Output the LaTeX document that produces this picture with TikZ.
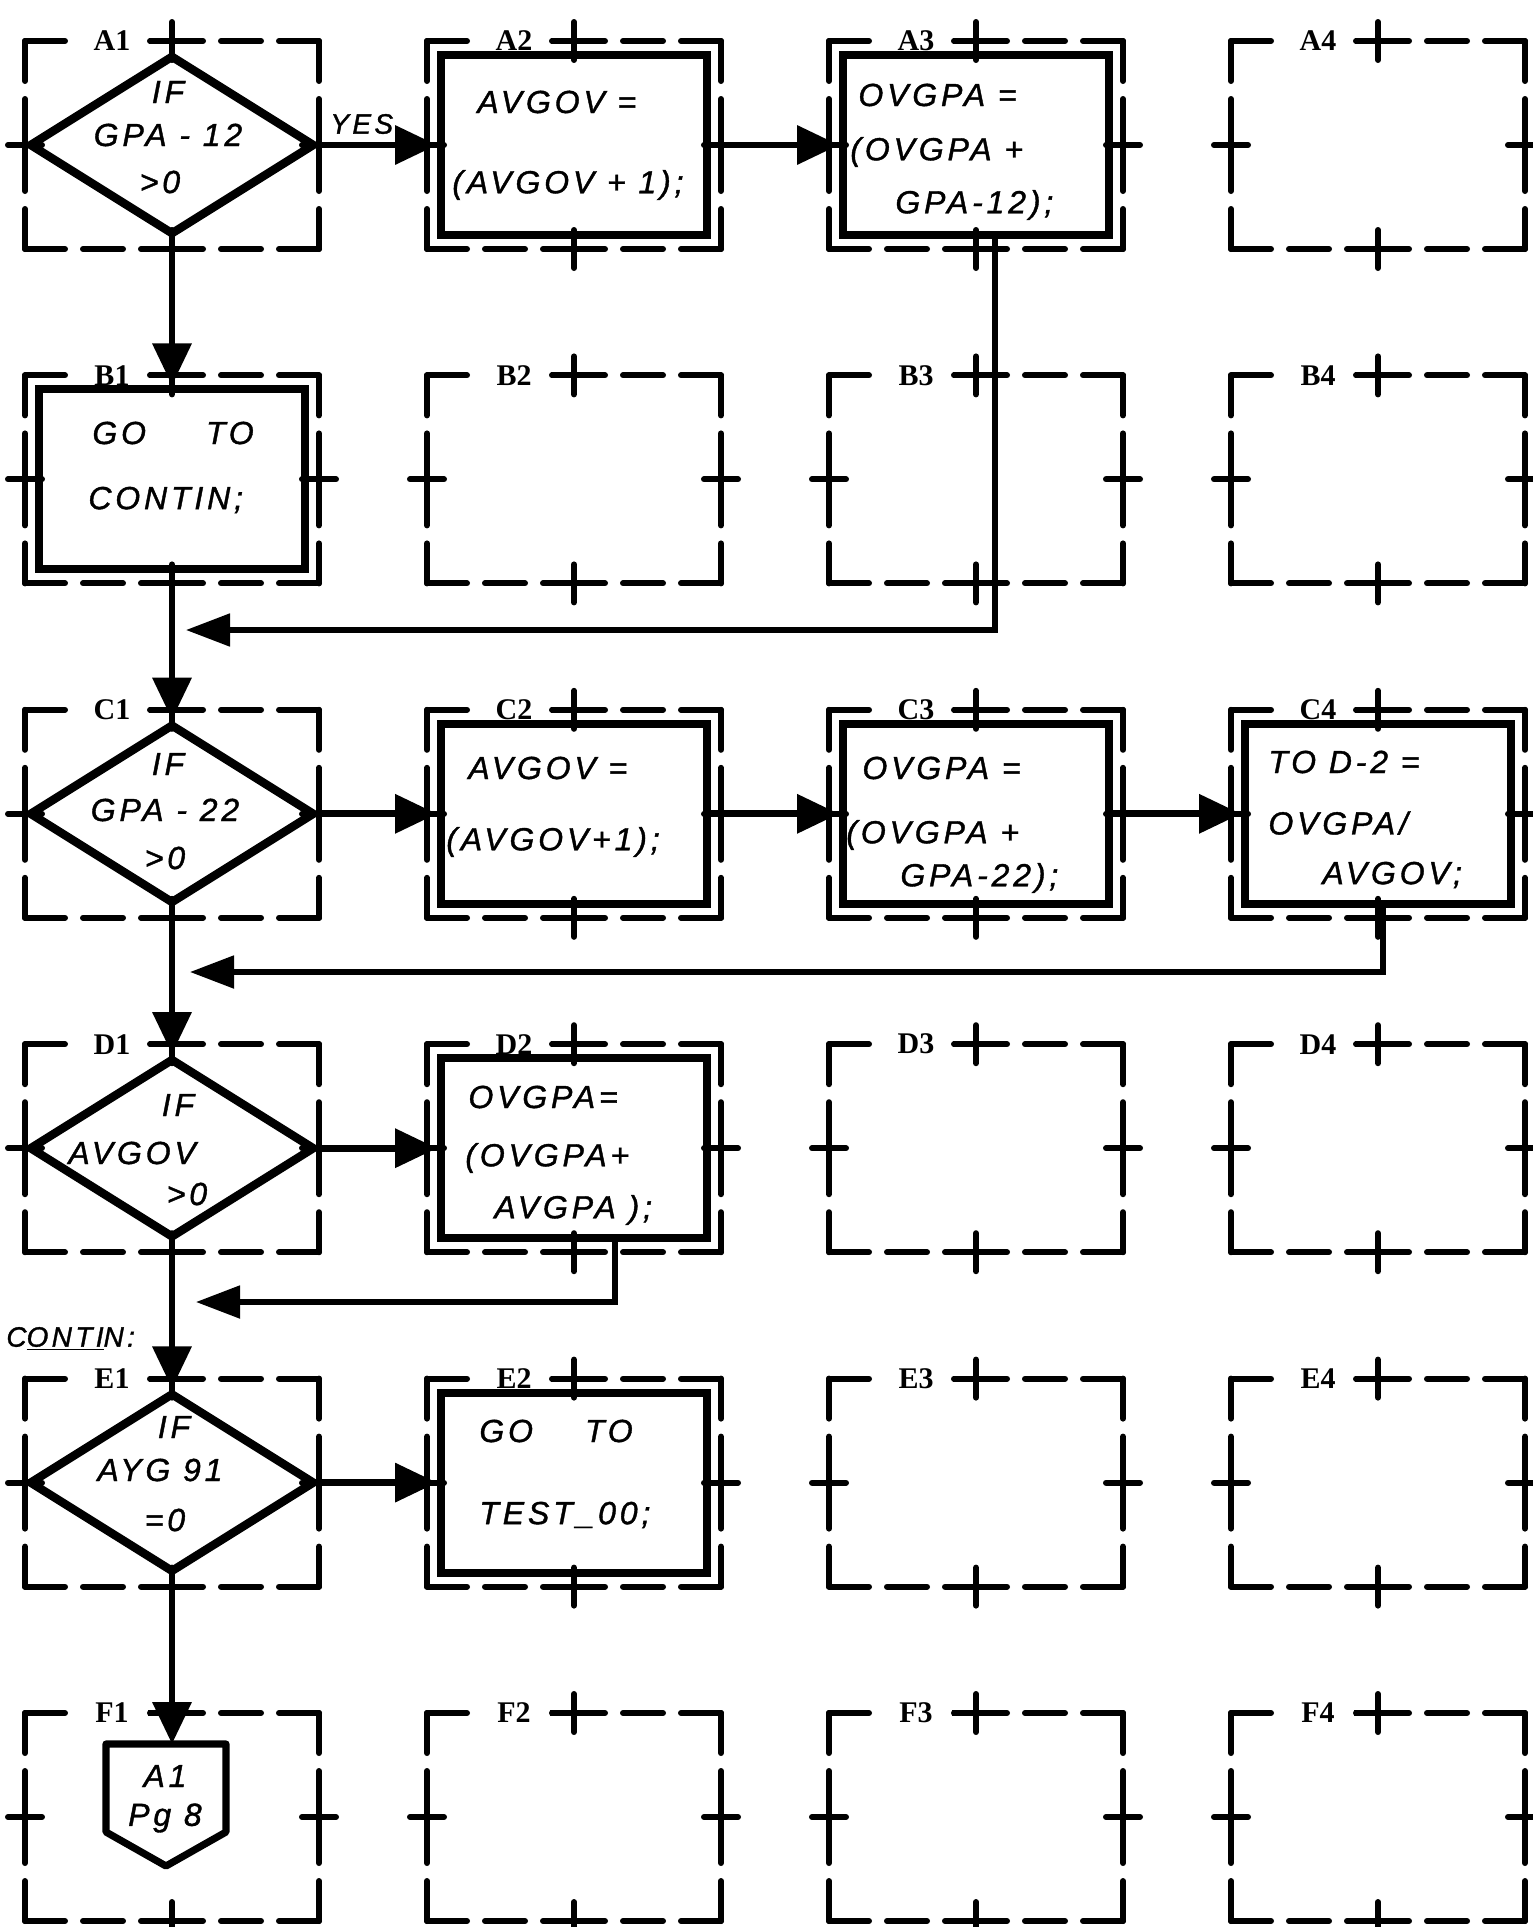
\documentclass[tikz,border=0pt]{standalone}
\usepackage{fontspec}
\newfontfamily\hand{Liberation Sans}[LetterSpace=12,FakeBold=1.2]
\newfontfamily\lblfont{Liberation Serif}
\usetikzlibrary{shapes.geometric,arrows.meta}
\tikzset{
  grid/.style={line width=3pt, dash pattern=on 20pt off 9pt, line cap=round},
  crossmark/.style={line width=3pt, line cap=round},
  celllbl/.style={fill=white, inner xsep=9.5pt, inner ysep=1pt, font=\lblfont\bfseries\fontsize{15pt}{17pt}\selectfont},
  hw/.style={font=\hand\itshape\fontsize{16pt}{18pt}\selectfont, inner sep=0pt},
  hwsmall/.style={font=\hand\itshape\fontsize{14pt}{16pt}\selectfont, inner sep=0pt},
  decision/.style={diamond, draw, line width=4.2pt, minimum width=143pt, minimum height=90pt, inner sep=0pt},
  process/.style={rectangle, draw, line width=4pt, minimum width=133pt, minimum height=90pt, inner sep=0pt},
  flow/.style={line width=3.4pt, -{Triangle[length=21pt,width=19pt]}},
  back/.style={line width=2.6pt, -{Triangle[length=22pt,width=16pt]}},
}
\begin{document}
\begin{tikzpicture}[x=0.5pt,y=-0.5pt]
\fill[white] (0,0) rectangle (1532,1927);
\useasboundingbox (0,0) rectangle (1532,1927);

% grid of dashed cells
\foreach \rl/\ry in {A/145,B/479.4,C/813.8,D/1148.2,E/1482.6,F/1817}{
  \foreach \c/\cx in {1/172,2/574,3/976,4/1378}{
    \draw[grid] (\cx-147,\ry-104) -- (\cx,\ry-104);
    \draw[grid] (\cx+147,\ry-104) -- (\cx,\ry-104);
    \draw[grid] (\cx-147,\ry+104) -- (\cx,\ry+104);
    \draw[grid] (\cx+147,\ry+104) -- (\cx,\ry+104);
    \draw[grid] (\cx-147,\ry-104) -- (\cx-147,\ry);
    \draw[grid] (\cx-147,\ry+104) -- (\cx-147,\ry);
    \draw[grid] (\cx+147,\ry-104) -- (\cx+147,\ry);
    \draw[grid] (\cx+147,\ry+104) -- (\cx+147,\ry);
    \node[celllbl] (lbl\rl\c) at (\cx-60,\ry-104) {\rl\c};
    \draw[crossmark] (\cx-22,\ry-104) -- (\cx+22,\ry-104) (\cx,\ry-123) -- (\cx,\ry-85);
    \draw[crossmark] (\cx-22,\ry+104) -- (\cx+22,\ry+104) (\cx,\ry+85) -- (\cx,\ry+123);
    \draw[crossmark] (\cx-147,\ry-22) -- (\cx-147,\ry+22) (\cx-164,\ry) -- (\cx-130,\ry);
    \draw[crossmark] (\cx+147,\ry-22) -- (\cx+147,\ry+22) (\cx+130,\ry) -- (\cx+164,\ry);
  }
}

% decisions
\node[decision] (A1d) at (172,145) {};
\node[decision] (C1d) at (172,813.8) {};
\node[decision] (D1d) at (172,1148.2) {};
\node[decision] (E1d) at (172,1482.6) {};

% process boxes
\node[process] (A2b) at (574,145) {};
\node[process] (A3b) at (976,145) {};
\node[process] (B1b) at (172,479.4) {};
\node[process] (C2b) at (574,813.8) {};
\node[process] (C3b) at (976,813.8) {};
\node[process] (C4b) at (1378,813.8) {};
\node[process] (D2b) at (574,1148.2) {};
\node[process] (E2b) at (574,1482.6) {};

% off-page connector
\draw[line width=3.6pt, line join=round] (106,1744) -- (226,1744) -- (226,1832) -- (166,1866) -- (106,1832) -- cycle;
\coordinate (F1top) at (172,1744);

% texts
\node[hw] (tA1a) at (168,92) {IF};
\node[hw] (tA1b) at (168,135) {GPA - 12};
\node[hw] (tA1c) at (160,182) {>0};
\node[hw,anchor=west] (tA2a) at (477,102) {AVGOV =};
\node[hw,anchor=west] (tA2b) at (452,185) {(AVGOV + 1);};
\node[hw,anchor=west] (tA3a) at (858,95) {OVGPA =};
\node[hw,anchor=west] (tA3b) at (850,152) {(OVGPA +};
\node[hw,anchor=west] (tA3c) at (895,205) {GPA-12);};
\node[hw,anchor=west] (tB1a) at (92,433) {GO\hspace{30pt}TO};
\node[hw,anchor=west] (tB1b) at (88,500) {CONTIN;};
\node[hw] (tC1a) at (168,764) {IF};
\node[hw] (tC1b) at (165,810) {GPA - 22};
\node[hw] (tC1c) at (165,858) {>0};
\node[hw,anchor=west] (tC2a) at (468,768) {AVGOV =};
\node[hw,anchor=west] (tC2b) at (446,842) {(AVGOV+1);};
\node[hw,anchor=west] (tC3a) at (862,768) {OVGPA =};
\node[hw,anchor=west] (tC3b) at (846,835) {(OVGPA +};
\node[hw,anchor=west] (tC3c) at (900,878) {GPA-22);};
\node[hw,anchor=west] (tC4a) at (1268,762) {TO D-2 =};
\node[hw,anchor=west] (tC4b) at (1268,823) {OVGPA/};
\node[hw,anchor=west] (tC4c) at (1322,875) {AVGOV;};
\node[hw] (tD1a) at (178,1105) {IF};
\node[hw,anchor=west] (tD1b) at (68,1153) {AVGOV};
\node[hw] (tD1c) at (187,1194) {>0};
\node[hw,anchor=west] (tD2a) at (468,1097) {OVGPA=};
\node[hw,anchor=west] (tD2b) at (465,1158) {(OVGPA+};
\node[hw,anchor=west] (tD2c) at (494,1210) {AVGPA );};
\node[hw] (tE1a) at (174,1427) {IF};
\node[hw] (tE1b) at (160,1470) {AYG 91};
\node[hw] (tE1c) at (165,1520) {=0};
\node[hw,anchor=west] (tE2a) at (479,1431) {GO\hspace{26pt}TO};
\node[hw,anchor=west] (tE2b) at (479,1515) {TEST\_00;};
\node[hw] (tF1a) at (165,1776) {A1};
\node[hw] (tF1b) at (165,1818) {Pg 8};
\node[hwsmall,anchor=west] (contin) at (6,1339) {C\underline{ONTI}N:};
\node[hwsmall,anchor=west] (yes) at (330,124) {YES};

% return points
\coordinate (ret1) at (186,630);
\coordinate (ret2) at (190,972);
\coordinate (ret3) at (196,1302);

% connectors
\draw[flow] (A1d.east) -- (A2b.west);
\draw[flow] (A2b.east) -- (A3b.west);
\draw[flow] (A1d.south) -- (B1b.north);
\draw[flow] (B1b.south) -- (C1d.north);
\draw[back] ([xshift=9.5pt]A3b.south) |- (ret1);
\draw[flow] (C1d.east) -- (C2b.west);
\draw[flow] (C2b.east) -- (C3b.west);
\draw[flow] (C3b.east) -- (C4b.west);
\draw[back] ([xshift=2.5pt]C4b.south) |- (ret2);
\draw[flow] (C1d.south) -- (D1d.north);
\draw[flow] (D1d.east) -- (D2b.west);
\draw[back] ([xshift=20.5pt]D2b.south) |- (ret3);
\draw[flow] (D1d.south) -- (E1d.north);
\draw[flow] (E1d.east) -- (E2b.west);
\draw[flow] (E1d.south) -- (F1top);
\end{tikzpicture}
\end{document}
